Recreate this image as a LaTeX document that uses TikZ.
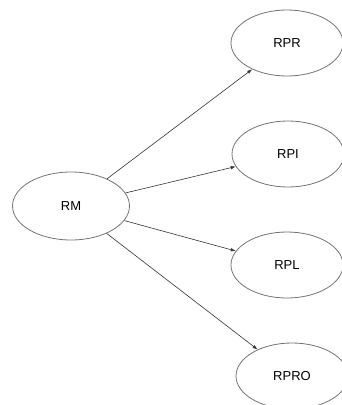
\documentclass[tikz,border=0pt]{standalone}
\usepackage{fontspec}
\setmainfont{Liberation Sans}
\usetikzlibrary{arrows.meta,shapes.geometric}
\tikzset{
	etat/.style={ellipse,draw=black!55,line width=0.8pt,minimum width=112pt,minimum height=66pt,inner sep=0pt,font=\fontsize{13}{15}\selectfont},
	fleche/.style={draw=black!80,line width=0.6pt,-{Latex[length=5pt,width=3.5pt]}}
}
\begin{document}
\begin{tikzpicture}[x=1pt,y=-1pt]
			\useasboundingbox (0,0) rectangle (342,405);
			\clip (0,0) rectangle (342,405);
			\node[etat,minimum width=117pt,minimum height=68pt] (rm) at (71,206) {RM};
			\node[etat] (rpr) at (287,43) {RPR};
			\node[etat] (rpi) at (288,154) {RPI};
			\node[etat] (rpl) at (287,265) {RPL};
			\node[etat] (rpro) at (292,376) {RPRO};
			\foreach \cible in {rpr,rpi,rpl,rpro}
				\draw[fleche] (rm) -- (\cible);
		\end{tikzpicture}
\end{document}
